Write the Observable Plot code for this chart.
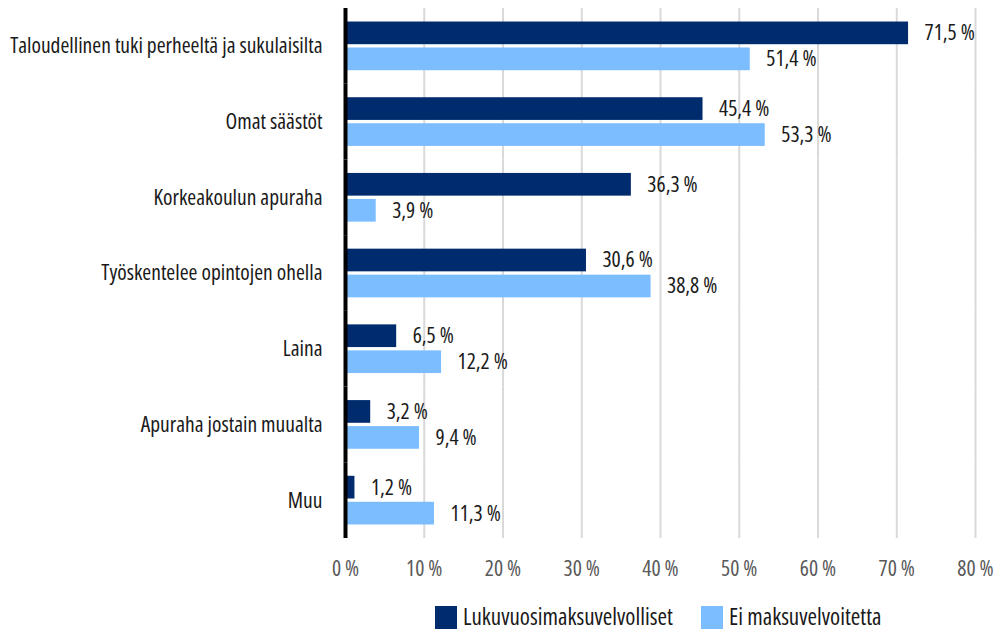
<!DOCTYPE html>
<html>
<head>
<meta charset="utf-8">
<script src="https://cdn.jsdelivr.net/npm/d3@7"></script>
<script src="https://cdn.jsdelivr.net/npm/@observablehq/plot@0.6"></script>
<style>
  html, body { margin: 0; padding: 0; background: #fff; }
  body { width: 999px; height: 632px; overflow: hidden; position: relative;
         font-family: "Open Sans", sans-serif; font-stretch: 75%; }
  #chart svg { display: block; }
  .sw { position: absolute; top: 606px; width: 22px; height: 23px; }
  .lt { position: absolute; top: 604px; font-size: 23px; line-height: 24px; color: #1a1a1a; white-space: nowrap; }
</style>
</head>
<body>
<div id="chart"></div>
<div id="legend"></div>
<script>
const categories = [
  "Taloudellinen tuki perheeltä ja sukulaisilta",
  "Omat säästöt",
  "Korkeakoulun apuraha",
  "Työskentelee opintojen ohella",
  "Laina",
  "Apuraha jostain muualta",
  "Muu"
];
const seriesNames = ["Lukuvuosimaksuvelvolliset", "Ei maksuvelvoitetta"];
const lukuvuosimaksuvelvolliset = [71.5, 45.4, 36.3, 30.6, 6.5, 3.2, 1.2];
const eiMaksuvelvoitetta = [51.4, 53.3, 3.9, 38.8, 12.2, 9.4, 11.3];
const xTicks = [0, 10, 20, 30, 40, 50, 60, 70, 80];
const colors = ["#002b6d", "#7bbdff"];

const data = [];
categories.forEach((c, i) => {
  data.push({category: c, series: seriesNames[0], value: lukuvuosimaksuvelvolliset[i]});
  data.push({category: c, series: seriesNames[1], value: eiMaksuvelvoitetta[i]});
});

const fmt = v => v.toFixed(1).replace(".", ",") + " %";

const chart = Plot.plot({
  width: 999,
  height: 590,
  marginLeft: 345,
  marginRight: 24,
  marginTop: 8,
  marginBottom: 52,
  style: {fontFamily: '"Open Sans", sans-serif', fontStretch: "75%", fontSize: "21.5px", color: "#1a1a1a", background: "#fff", overflow: "visible"},
  x: {domain: [0, 80], ticks: xTicks, label: null},
  fy: {domain: categories, padding: 0, round: false, label: null},
  y: {domain: seriesNames, paddingInner: 0.127, paddingOuter: 0.52, round: false, axis: null},
  color: {domain: seriesNames, range: colors},
  marks: [
    Plot.gridX(xTicks.filter(t => t > 0), {stroke: "#d9d9d9", strokeOpacity: 1, strokeWidth: 2}),
    Plot.barX(data, {fy: "category", y: "series", x: "value", fill: "series"}),
    Plot.text(data, {fy: "category", y: "series", x: "value", text: d => fmt(d.value),
      textAnchor: "start", dx: 16, fill: "#1a1a1a", fontSize: 21.5}),
    Plot.ruleX([0], {stroke: "#000", strokeWidth: 4}),
    Plot.axisX({ticks: xTicks, tickFormat: d => d + " %", tickSize: 0, tickPadding: 22,
      fill: "#595959", fontSize: 21.5, label: null}),
    Plot.axisFy({anchor: "left", tickSize: 0, tickPadding: 23, fill: "#1a1a1a", fontSize: 21.5, label: null})
  ]
});
document.getElementById("chart").appendChild(chart);

const legend = document.getElementById("legend");
const legendX = [435, 701];
seriesNames.forEach((s, i) => {
  const sw = document.createElement("div");
  sw.className = "sw";
  sw.style.left = legendX[i] + "px";
  sw.style.background = colors[i];
  const t = document.createElement("div");
  t.className = "lt";
  t.style.left = (legendX[i] + 28) + "px";
  t.textContent = s;
  legend.appendChild(sw);
  legend.appendChild(t);
});
</script>
</body>
</html>
